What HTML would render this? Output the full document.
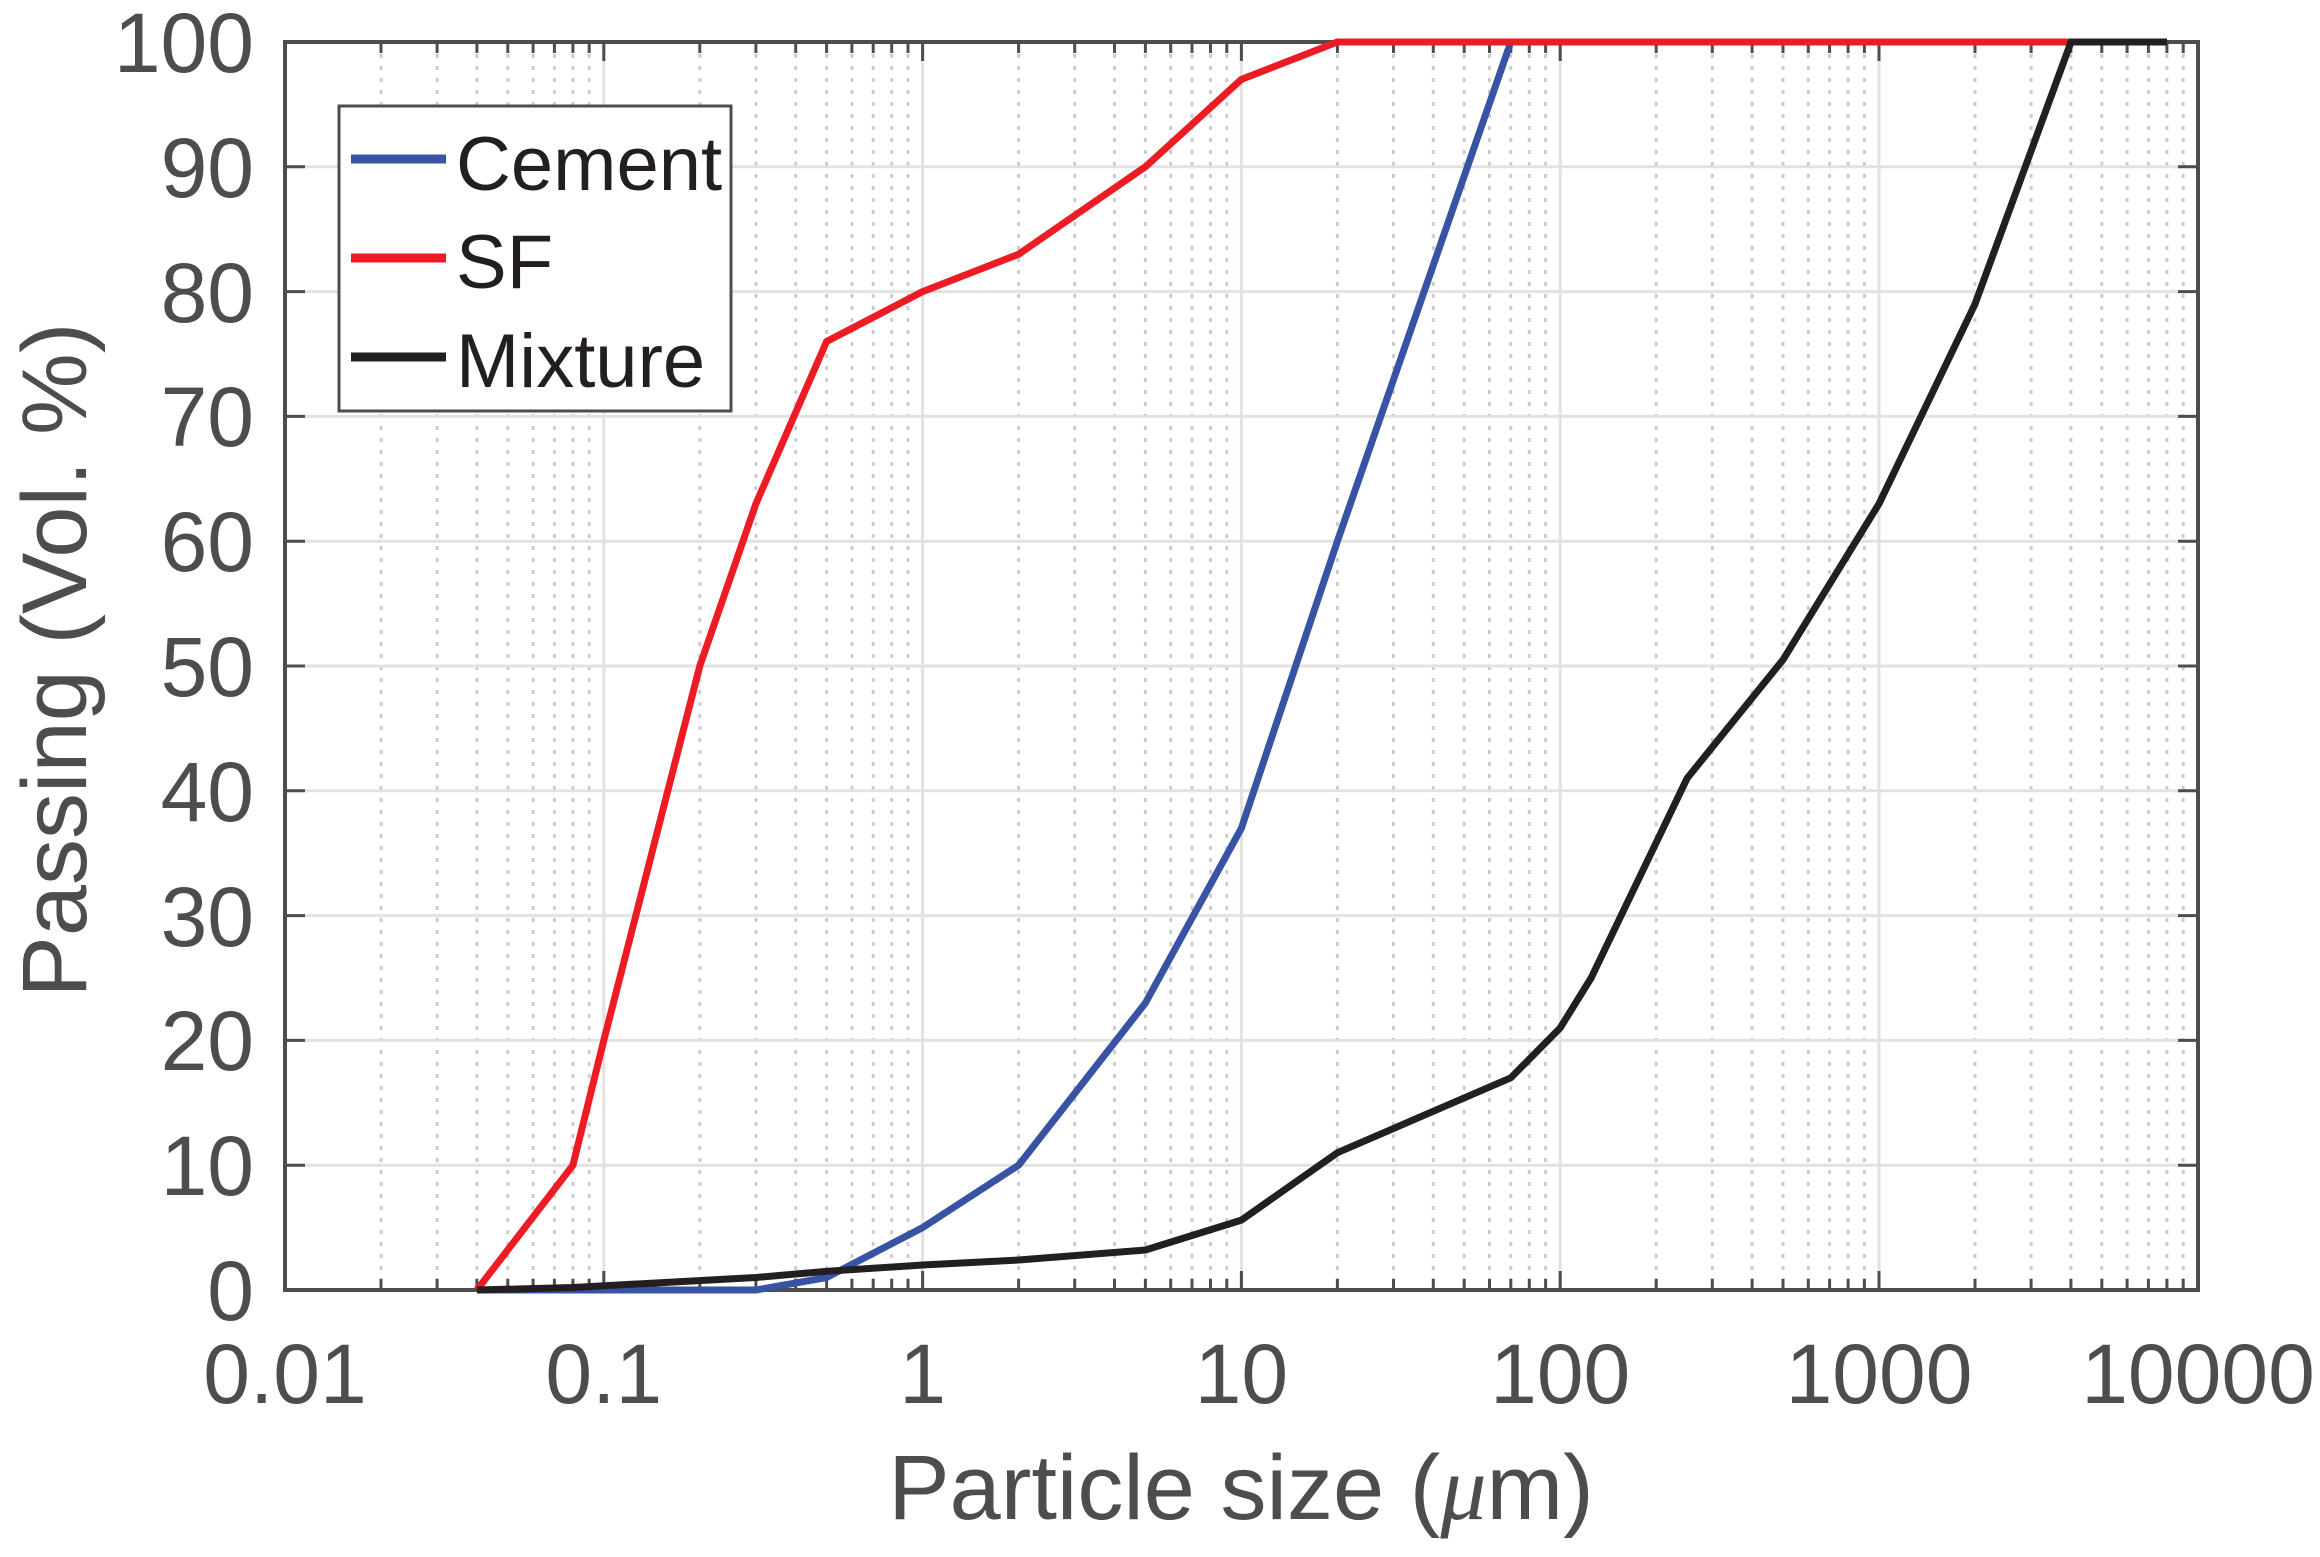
<!DOCTYPE html>
<html><head><meta charset="utf-8"><style>
html,body{margin:0;padding:0;background:#fff;}
svg{display:block;}
text{font-family:"Liberation Sans",Arial,sans-serif;}
</style></head><body>
<svg width="2320" height="1557" viewBox="0 0 2320 1557" xmlns="http://www.w3.org/2000/svg">
<defs>
<g id="minor">
<line x1="96" y1="42" x2="96" y2="1290"/>
<line x1="152.1" y1="42" x2="152.1" y2="1290"/>
<line x1="191.9" y1="42" x2="191.9" y2="1290"/>
<line x1="222.8" y1="42" x2="222.8" y2="1290"/>
<line x1="248.1" y1="42" x2="248.1" y2="1290"/>
<line x1="269.4" y1="42" x2="269.4" y2="1290"/>
<line x1="287.9" y1="42" x2="287.9" y2="1290"/>
<line x1="304.2" y1="42" x2="304.2" y2="1290"/>
</g>
<g id="mtick">
<line x1="96" y1="1290" x2="96" y2="1279"/><line x1="96" y1="42" x2="96" y2="53"/>
<line x1="152.1" y1="1290" x2="152.1" y2="1279"/><line x1="152.1" y1="42" x2="152.1" y2="53"/>
<line x1="191.9" y1="1290" x2="191.9" y2="1279"/><line x1="191.9" y1="42" x2="191.9" y2="53"/>
<line x1="222.8" y1="1290" x2="222.8" y2="1279"/><line x1="222.8" y1="42" x2="222.8" y2="53"/>
<line x1="248.1" y1="1290" x2="248.1" y2="1279"/><line x1="248.1" y1="42" x2="248.1" y2="53"/>
<line x1="269.4" y1="1290" x2="269.4" y2="1279"/><line x1="269.4" y1="42" x2="269.4" y2="53"/>
<line x1="287.9" y1="1290" x2="287.9" y2="1279"/><line x1="287.9" y1="42" x2="287.9" y2="53"/>
<line x1="304.2" y1="1290" x2="304.2" y2="1279"/><line x1="304.2" y1="42" x2="304.2" y2="53"/>
</g>
</defs>
<g stroke="#cccccc" stroke-width="3" stroke-dasharray="4 8">
<use href="#minor" x="285"/><use href="#minor" x="603.8"/><use href="#minor" x="922.6"/>
<use href="#minor" x="1241.4"/><use href="#minor" x="1560.2"/><use href="#minor" x="1879"/>
</g>
<g stroke="#e2e2e2" stroke-width="3">
<line x1="603.8" y1="42" x2="603.8" y2="1290"/><line x1="922.6" y1="42" x2="922.6" y2="1290"/>
<line x1="1241.4" y1="42" x2="1241.4" y2="1290"/><line x1="1560.2" y1="42" x2="1560.2" y2="1290"/>
<line x1="1879" y1="42" x2="1879" y2="1290"/>
<line x1="285" y1="166.8" x2="2198" y2="166.8"/><line x1="285" y1="291.6" x2="2198" y2="291.6"/>
<line x1="285" y1="416.4" x2="2198" y2="416.4"/><line x1="285" y1="541.2" x2="2198" y2="541.2"/>
<line x1="285" y1="666" x2="2198" y2="666"/><line x1="285" y1="790.8" x2="2198" y2="790.8"/>
<line x1="285" y1="915.6" x2="2198" y2="915.6"/><line x1="285" y1="1040.4" x2="2198" y2="1040.4"/>
<line x1="285" y1="1165.2" x2="2198" y2="1165.2"/>
</g>
<g stroke="#4d4d4d" stroke-width="3">
<use href="#mtick" x="285"/><use href="#mtick" x="603.8"/><use href="#mtick" x="922.6"/>
<use href="#mtick" x="1241.4"/><use href="#mtick" x="1560.2"/><use href="#mtick" x="1879"/>
<path d="M603.8 1290v-19M922.6 1290v-19M1241.4 1290v-19M1560.2 1290v-19M1879 1290v-19M603.8 42v19M922.6 42v19M1241.4 42v19M1560.2 42v19M1879 42v19"/>
<path d="M285 166.8h20M285 291.6h20M285 416.4h20M285 541.2h20M285 666h20M285 790.8h20M285 915.6h20M285 1040.4h20M285 1165.2h20M2198 166.8h-20M2198 291.6h-20M2198 416.4h-20M2198 541.2h-20M2198 666h-20M2198 790.8h-20M2198 915.6h-20M2198 1040.4h-20M2198 1165.2h-20"/>
</g>
<rect x="285" y="42" width="1913" height="1248" fill="none" stroke="#4d4d4d" stroke-width="4"/>
<g fill="none" stroke-width="7" stroke-linejoin="round">
<polyline stroke="#3953a4" points="476.9,1290 755.9,1290 826.6,1277.5 922.6,1227.6 1018.6,1165.2 1145.4,1003 1241.4,828.2 1337.4,541.2 1510.8,42"/>
<polyline stroke="#ed1c24" points="476.9,1290 572.9,1165.2 603.8,1040.4 699.8,666 755.9,503.8 826.6,341.5 922.6,291.6 1018.6,254.2 1145.4,166.8 1241.4,79.4 1337.4,42 2167,42"/>
<polyline stroke="#231f20" points="476.9,1290 572.9,1287.5 755.9,1277.5 826.6,1271.3 922.6,1265 1018.6,1260 1145.4,1250 1241.4,1220.1 1337.4,1152.7 1510.8,1077.8 1560.2,1027.9 1591.1,978 1687.1,778.3 1783,659.8 1879,503.8 1975,304.1 2071,42 2167,42"/>
</g>
<rect x="339" y="106" width="392" height="305" fill="#fff" stroke="#4d4d4d" stroke-width="3"/>
<g stroke-width="9">
<line x1="351" y1="159" x2="446" y2="159" stroke="#3953a4"/>
<line x1="351" y1="258" x2="446" y2="258" stroke="#ed1c24"/>
<line x1="351" y1="357" x2="446" y2="357" stroke="#231f20"/>
</g>
<g fill="#231f20" font-size="76">
<text x="456" y="190">Cement</text>
<text x="456" y="288">SF</text>
<text x="456" y="387">Mixture</text>
</g>
<g fill="#4d4d4d" font-size="84" text-anchor="end">
<text x="254" y="72">100</text><text x="254" y="197">90</text><text x="254" y="322">80</text>
<text x="254" y="446">70</text><text x="254" y="571">60</text><text x="254" y="696">50</text>
<text x="254" y="821">40</text><text x="254" y="946">30</text><text x="254" y="1070">20</text>
<text x="254" y="1195">10</text><text x="254" y="1320">0</text>
</g>
<g fill="#4d4d4d" font-size="84" text-anchor="middle">
<text x="285" y="1403">0.01</text><text x="603.8" y="1403">0.1</text><text x="922.6" y="1403">1</text>
<text x="1241.4" y="1403">10</text><text x="1560.2" y="1403">100</text><text x="1879" y="1403">1000</text>
<text x="2198" y="1403">10000</text>
</g>
<text x="1241" y="1519" fill="#4d4d4d" font-size="92" text-anchor="middle">Particle size (<tspan font-style="italic" font-family="Liberation Serif, serif">μ</tspan>m)</text>
<text transform="translate(86,660) rotate(-90)" fill="#4d4d4d" font-size="92" text-anchor="middle">Passing (Vol. %)</text>
</svg>
</body></html>
